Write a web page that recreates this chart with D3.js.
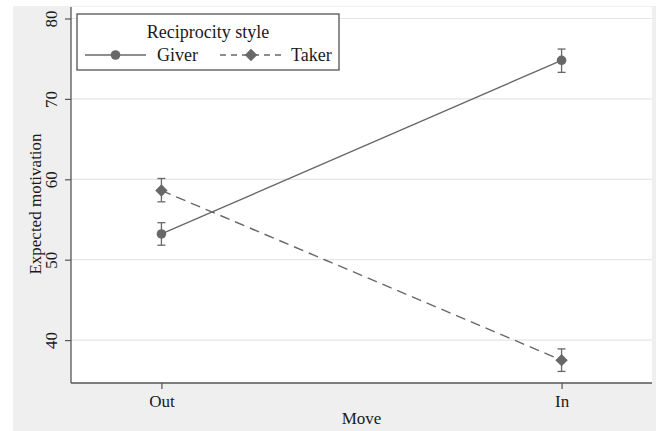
<!DOCTYPE html>
<html>
<head>
<meta charset="utf-8">
<script src="https://cdn.jsdelivr.net/npm/d3@7"></script>
<style>
  html, body { margin: 0; padding: 0; background: #ffffff; }
  svg { display: block; }
  text { font-family: "Liberation Serif", "Times New Roman", serif; fill: #1a1a1a; }
</style>
</head>
<body>
<svg id="chart" width="656" height="431"></svg>
<script>
// Expected motivation by move direction and reciprocity style (means with CIs)
const moves = ["Out", "In"];
const giverMean = [53.2, 74.8];
const giverLow  = [51.8, 73.3];
const giverHigh = [54.6, 76.2];
const takerMean = [58.6, 37.5];
const takerLow  = [57.2, 36.1];
const takerHigh = [60.1, 38.9];
const yTicks = [40, 50, 60, 70, 80];

const series = [
  { name: "Giver", mean: giverMean, low: giverLow, high: giverHigh, dash: null, shape: "circle" },
  { name: "Taker", mean: takerMean, low: takerLow, high: takerHigh, dash: "10,6", shape: "diamond" }
];

const W = 656, H = 431;
const plot = { left: 71, right: 652, top: 7, bottom: 383 };
const ink = "#686868";

const svg = d3.select("#chart");

// outer graph region
svg.append("rect").attr("x", 13).attr("y", 6).attr("width", W - 13).attr("height", H - 6)
  .attr("fill", "#efefef");
svg.append("rect").attr("x", plot.left).attr("y", plot.top)
  .attr("width", plot.right - plot.left).attr("height", plot.bottom - plot.top)
  .attr("fill", "#ffffff");

const x = d3.scalePoint().domain(moves).range([plot.left, plot.right]).padding(0.226);
const y = d3.scaleLinear().domain([34.66, 81.43]).range([plot.bottom, plot.top]);

// gridlines
svg.append("g").selectAll("line").data(yTicks).join("line")
  .attr("x1", plot.left).attr("x2", plot.right)
  .attr("y1", d => y(d)).attr("y2", d => y(d))
  .attr("stroke", "#e6e6e6").attr("stroke-width", 1.2);

// y axis
const yAxis = svg.append("g").attr("transform", `translate(${plot.left},0)`)
  .call(d3.axisLeft(y).tickValues(yTicks).tickSize(6).tickPadding(5).tickFormat(d3.format("d")));
yAxis.select(".domain").attr("stroke", "#555").attr("stroke-width", 1.3)
  .attr("d", `M0,${plot.top}V${plot.bottom}`);
yAxis.selectAll(".tick line").attr("stroke", "#555").attr("stroke-width", 1.2);
yAxis.selectAll(".tick text")
  .attr("font-size", 17).attr("fill", "#1a1a1a")
  .attr("text-anchor", "middle").attr("dy", null).attr("x", null)
  .attr("transform", "translate(-18,0) rotate(-90)")
  .attr("dominant-baseline", "middle");

// x axis
const xAxis = svg.append("g").attr("transform", `translate(0,${plot.bottom})`)
  .call(d3.axisBottom(x).tickSize(6).tickPadding(6));
xAxis.select(".domain").attr("stroke", "#555").attr("stroke-width", 1.3)
  .attr("d", `M${plot.left},0H${plot.right}`);
xAxis.selectAll(".tick line").attr("stroke", "#555").attr("stroke-width", 1.2);
xAxis.selectAll(".tick text").attr("font-size", 17).attr("fill", "#1a1a1a");

// axis titles
svg.append("text").attr("x", (plot.left + plot.right) / 2).attr("y", 424)
  .attr("text-anchor", "middle").attr("font-size", 17).text("Move");
svg.append("text")
  .attr("transform", `translate(41,${(plot.top + plot.bottom) / 2 + 9}) rotate(-90)`)
  .attr("text-anchor", "middle").attr("font-size", 17).text("Expected motivation");

const diamond = s => `M0,${-s}L${s},0L0,${s}L${-s},0Z`;
const drawMarker = (g, shape) => {
  if (shape === "circle") g.append("circle").attr("r", 4.8).attr("fill", ink);
  else g.append("path").attr("d", diamond(6.2)).attr("fill", ink);
};

// series lines, CIs, markers
series.forEach(s => {
  const pts = moves.map((m, i) => ({ m, v: s.mean[i], lo: s.low[i], hi: s.high[i] }));
  svg.append("path").datum(pts)
    .attr("d", d3.line().x(d => x(d.m)).y(d => y(d.v)))
    .attr("fill", "none").attr("stroke", ink).attr("stroke-width", 1.4)
    .attr("stroke-dasharray", s.dash);
  const eb = svg.append("g").selectAll("g").data(pts).join("g");
  eb.append("line").attr("x1", d => x(d.m)).attr("x2", d => x(d.m))
    .attr("y1", d => y(d.lo)).attr("y2", d => y(d.hi))
    .attr("stroke", ink).attr("stroke-width", 1.3);
  [d => y(d.lo), d => y(d.hi)].forEach(fy => {
    eb.append("line").attr("x1", d => x(d.m) - 4).attr("x2", d => x(d.m) + 4)
      .attr("y1", fy).attr("y2", fy).attr("stroke", ink).attr("stroke-width", 1.3);
  });
  pts.forEach(d => drawMarker(svg.append("g").attr("transform", `translate(${x(d.m)},${y(d.v)})`), s.shape));
});

// legend
const lg = svg.append("g");
lg.append("rect").attr("x", 77).attr("y", 14).attr("width", 262).attr("height", 56)
  .attr("fill", "#ffffff").attr("stroke", "#444").attr("stroke-width", 1.2);
lg.append("text").attr("x", 208).attr("y", 38).attr("text-anchor", "middle")
  .attr("font-size", 18).text("Reciprocity style");
const entries = [
  { s: series[0], x1: 85, x2: 146, tx: 157 },
  { s: series[1], x1: 220, x2: 282, tx: 291 }
];
entries.forEach(e => {
  const rowY = 55;
  lg.append("line").attr("x1", e.x1).attr("x2", e.x2).attr("y1", rowY).attr("y2", rowY)
    .attr("stroke", ink).attr("stroke-width", 1.4).attr("stroke-dasharray", e.s.dash ? "6,5" : null);
  drawMarker(lg.append("g").attr("transform", `translate(${(e.x1 + e.x2) / 2},${rowY})`), e.s.shape);
  lg.append("text").attr("x", e.tx).attr("y", rowY + 6).attr("font-size", 18).text(e.s.name);
});
</script>
</body>
</html>
